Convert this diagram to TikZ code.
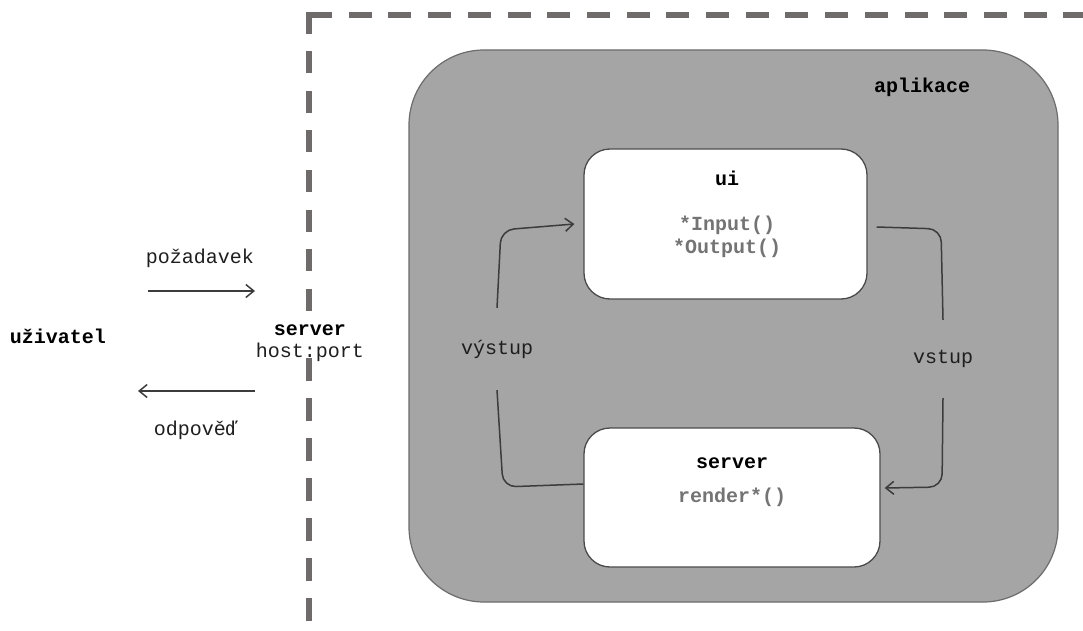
\documentclass[tikz,border=0pt]{standalone}
\usepackage{fontspec}
\setmainfont{Liberation Mono}
\setmonofont{Liberation Mono}
\usetikzlibrary{arrows.meta}
\definecolor{dashgray}{HTML}{6F6B6B}
\definecolor{appfill}{HTML}{A5A5A5}
\definecolor{appedge}{HTML}{6C6C6C}
\definecolor{boxedge}{HTML}{4A4A4A}
\definecolor{lineg}{HTML}{3C3C3C}
\definecolor{fng}{HTML}{747474}
\definecolor{txt}{HTML}{1E1E1E}
\begin{document}
\begin{tikzpicture}[x=1pt,y=-1pt,
  lbl/.style={font=\fontsize{20}{22}\selectfont, text=txt, inner sep=0pt},
  ttl/.style={font=\fontsize{20}{22}\selectfont\bfseries, text=black, inner sep=0pt},
  fn/.style={font=\fontsize{20}{22}\selectfont\bfseries, text=fng, inner sep=0pt},
  border/.style={draw=dashgray, line width=6pt},
  appbox/.style={draw=appedge, fill=appfill, line width=1.2pt, rounded corners=75pt, inner sep=0pt},
  whitebox/.style={draw=boxedge, fill=white, line width=1.3pt, rounded corners=26pt, inner sep=0pt},
  conn/.style={draw=lineg, line width=1.5pt, rounded corners=13pt},
  arr/.style={conn, -{Straight Barb[length=8pt,width=13pt,line width=1.5pt]}},
  gaplbl/.style={lbl, minimum width=80pt}
]
\useasboundingbox (0,0) rectangle (1083,631);
% dashed boundary
\draw[border, dash pattern=on 22pt off 17.5pt] (309,12) -- (309,312);
\draw[border, dash pattern=on 23pt off 17pt] (309,358) -- (309,631);
\draw[border, dash pattern=on 23pt off 16.7pt] (309,15) -- (1083,15);
% application
\node[appbox, minimum width=649pt, minimum height=552pt] (app) at (733.5,326) {};
\node[ttl] (appl) at (922,87) {aplikace};
% ui box
\node[whitebox, minimum width=283pt, minimum height=150pt] (ui) at (725.5,224) {};
\node[ttl] (uit) at (727,178) {ui};
\node[fn] (uiin) at (727,225) {*Input()};
\node[fn] (uiout) at (727,248) {*Output()};
% server box
\node[whitebox, minimum width=296pt, minimum height=139pt] (srv) at (732,497.5) {};
\node[ttl] (srvt) at (732,463) {server};
\node[fn] (srvr) at (732,497) {render*()};
% loop labels
\node[gaplbl, minimum height=82pt] (vys) at (497,349) {výstup};
\node[gaplbl, minimum height=78pt] (vst) at (943,359) {vstup};
% loop connectors
\draw[conn] ([yshift=13.5pt]srv.west) -- (503,487) -- (vys.south);
\draw[arr] (vys.north) -- (501,230) -- ([xshift=-9pt]ui.west);
\draw[conn] ([xshift=9pt,yshift=-3pt]ui.east) -- (941,229) -- (vst.north);
\draw[arr] (vst.south) -- (942,487) -- ([xshift=4pt,yshift=9.5pt]srv.east);
% left side
\node[ttl] (user) at (58,336) {uživatel};
\node[ttl] (srvl) at (310,330) {server};
\node[lbl] (host) at (310,352) {host:port};
\node[lbl] (req) at (200,258) {požadavek};
\node[lbl] (resp) at (196,430) {odpověď};
\coordinate (reqa) at (148,291);
\coordinate (reqb) at (255,291);
\coordinate (respa) at (255,391);
\coordinate (respb) at (138,391);
\draw[arr] (reqa) -- (reqb);
\draw[arr] (respa) -- (respb);
\end{tikzpicture}
\end{document}
